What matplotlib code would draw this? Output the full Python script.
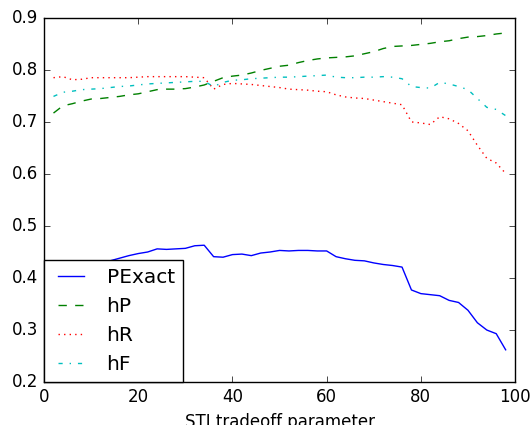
import numpy as np
import matplotlib
matplotlib.use("Agg")
import matplotlib.pyplot as plt

plt.style.use("classic")

# tradeoff parameter values
x = np.arange(2, 100, 2)

pexact = [0.395, 0.405, 0.412, 0.418, 0.423, 0.428, 0.433, 0.438, 0.443, 0.447,
          0.450, 0.456, 0.455, 0.456, 0.457, 0.462, 0.463, 0.441, 0.440, 0.445,
          0.446, 0.443, 0.448, 0.450, 0.453, 0.452, 0.453, 0.453, 0.452, 0.452,
          0.441, 0.437, 0.434, 0.433, 0.429, 0.426, 0.424, 0.421, 0.377, 0.370,
          0.368, 0.366, 0.357, 0.353, 0.338, 0.314, 0.300, 0.293, 0.262]
hp = [0.717, 0.731, 0.735, 0.740, 0.744, 0.745, 0.747, 0.749, 0.752, 0.754,
      0.758, 0.762, 0.763, 0.763, 0.764, 0.767, 0.771, 0.778, 0.785, 0.788,
      0.790, 0.794, 0.799, 0.803, 0.807, 0.809, 0.814, 0.818, 0.821, 0.823,
      0.824, 0.825, 0.827, 0.831, 0.835, 0.841, 0.845, 0.846, 0.847, 0.849,
      0.851, 0.854, 0.856, 0.860, 0.863, 0.864, 0.866, 0.869, 0.871]
hr = [0.785, 0.787, 0.781, 0.782, 0.785, 0.785, 0.785, 0.785, 0.785, 0.786,
      0.787, 0.787, 0.787, 0.787, 0.787, 0.786, 0.785, 0.763, 0.772, 0.774,
      0.773, 0.772, 0.770, 0.768, 0.766, 0.763, 0.762, 0.761, 0.759, 0.758,
      0.752, 0.748, 0.746, 0.745, 0.742, 0.739, 0.736, 0.733, 0.700, 0.698,
      0.695, 0.710, 0.706, 0.697, 0.683, 0.655, 0.630, 0.621, 0.601]
hf = [0.749, 0.757, 0.759, 0.762, 0.763, 0.764, 0.766, 0.768, 0.769, 0.771,
      0.773, 0.774, 0.775, 0.776, 0.777, 0.778, 0.778, 0.768, 0.776, 0.780,
      0.781, 0.783, 0.784, 0.785, 0.786, 0.786, 0.787, 0.788, 0.789, 0.790,
      0.786, 0.785, 0.785, 0.786, 0.786, 0.787, 0.786, 0.783, 0.768, 0.766,
      0.765, 0.776, 0.773, 0.768, 0.762, 0.745, 0.728, 0.724, 0.712]

fig = plt.figure(figsize=(5.31, 4.25), dpi=100, facecolor="white")
ax = fig.add_axes([0.083, 0.101, 0.887, 0.857])

ax.plot(x, pexact, "b-", label="PExact")
ax.plot(x, hp, "g--", label="hP")
ax.plot(x, hr, "r:", label="hR")
ax.plot(x, hf, "c-.", label="hF")

ax.set_xlim(0, 100)
ax.set_ylim(0.2, 0.9)
ax.tick_params(labelsize=12)
ax.set_xlabel("STI tradeoff parameter", fontsize=12)
ax.legend(loc="lower left", fontsize=14.5, borderaxespad=0, fancybox=False,
          handlelength=1.9)

fig.savefig("out.png", dpi=100, facecolor="white")
